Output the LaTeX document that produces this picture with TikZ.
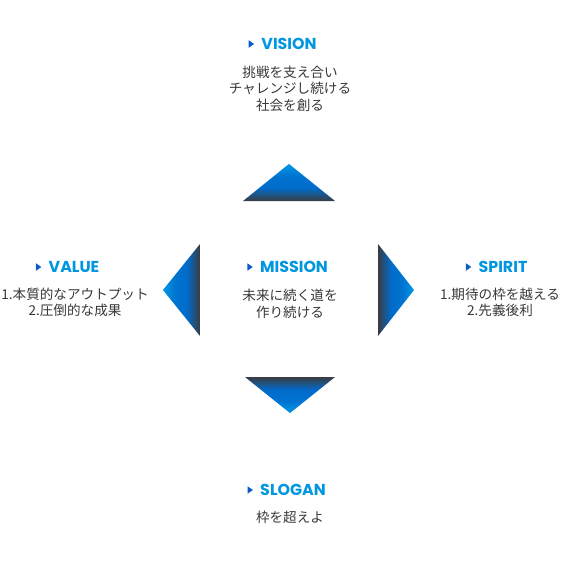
\documentclass[tikz,border=0pt]{standalone}
\usepackage{fontspec}
\setmainfont{Noto Sans CJK JP}
\newfontfamily\headfont{Poppins}
\usetikzlibrary{positioning,shapes.geometric}
\definecolor{headblue}{RGB}{0,150,224}
\definecolor{markblue}{RGB}{10,90,200}
\definecolor{bodygray}{RGB}{56,56,56}
\definecolor{tipblue}{RGB}{0,152,228}
\definecolor{midblue}{RGB}{0,108,204}
\definecolor{basegray}{RGB}{58,60,66}
\pgfdeclareverticalshading{tribar}{100bp}{color(0bp)=(basegray); color(25bp)=(basegray); color(43bp)=(midblue); color(58bp)=(midblue!85!tipblue); color(75bp)=(tipblue); color(100bp)=(tipblue)}
\tikzset{every picture/.style={line width=0.75pt}}
\tikzset{
  heading/.style={font=\headfont\bfseries\fontsize{11.9}{12}\selectfont, text=headblue, inner sep=0pt},
  marker/.style={isosceles triangle, isosceles triangle apex angle=70, fill=markblue, inner sep=0pt, minimum height=4pt, minimum width=4.6pt},
  body/.style={font=\fontsize{10.2}{12.4}\selectfont, text=bodygray, align=center, inner sep=0pt}
}

\begin{document}
\begin{tikzpicture}[x=0.75pt,y=0.75pt,yscale=-1,xscale=1]
	\useasboundingbox (0,0) rectangle (578,578);

	%Shape: Triangle up
	\shade[shading=tribar] (289,164) -- (335,201) -- (243,201) -- cycle;
	%Shape: Triangle down
	\shade[shading=tribar, shading angle=180] (245,377) -- (335,377) -- (290,413) -- cycle;
	%Shape: Triangle left
	\shade[shading=tribar, shading angle=90] (163,290) -- (200,244) -- (200,336) -- cycle;
	%Shape: Triangle right
	\shade[shading=tribar, shading angle=-90] (378,244) -- (414,290) -- (378,336) -- cycle;

	% Text Node
	\node[heading] (vision) at (289,44) {VISION};
	\node[marker, left=4.5pt of vision] (visionmark) {};
	\node[body] (visiontext) at (290,88.5) {挑戦を支え合い\\チャレンジし続ける\\社会を創る};

	% Text Node
	\node[heading] (mission) at (294,267) {MISSION};
	\node[marker, left=4.5pt of mission] (missionmark) {};
	\node[body] (missiontext) at (290,304) {未来に続く道を\\作り続ける};

	% Text Node
	\node[heading] (value) at (74,267) {VALUE};
	\node[marker, left=4.5pt of value] (valuemark) {};
	\node[body] (valuetext) at (75,302.5) {1.本質的なアウトプット\\2.圧倒的な成果};

	% Text Node
	\node[heading] (spirit) at (503,267) {SPIRIT};
	\node[marker, left=4.5pt of spirit] (spiritmark) {};
	\node[body] (spirittext) at (500,302.5) {1.期待の枠を越える\\2.先義後利};

	% Text Node
	\node[heading] (slogan) at (293,490) {SLOGAN};
	\node[marker, left=4.5pt of slogan] (sloganmark) {};
	\node[body] (slogantext) at (290,517) {枠を超えよ};

\end{tikzpicture}
\end{document}
